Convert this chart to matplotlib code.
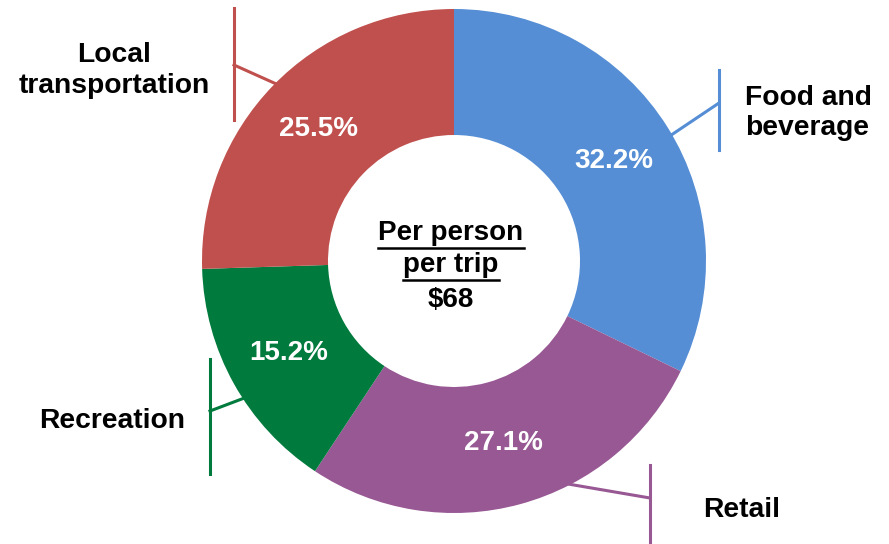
import matplotlib
matplotlib.use("Agg")
import matplotlib.pyplot as plt
import numpy as np

# data
categories = ["Food and\nbeverage", "Retail", "Recreation", "Local\ntransportation"]
shares = [32.2, 27.1, 15.2, 25.5]
colors = ["#558ED5", "#975893", "#007A3D", "#C0504D"]
center_lines = ["Per person", "per trip", "$68"]

plt.rcParams["font.family"] = ["Liberation Sans", "DejaVu Sans"]

W, H = 889, 544
fig = plt.figure(figsize=(W / 100, H / 100), dpi=100)
ax = fig.add_axes([0, 0, 1, 1])

# work in pixel units, y measured from the top of the picture
cx, cy = 454, H - 261
R = 252
wedges, texts, autotexts = ax.pie(
    shares, colors=colors, startangle=90, counterclock=False,
    radius=R, center=(cx, cy), autopct="%.1f%%", pctdistance=0.75,
    wedgeprops=dict(width=126, linewidth=0),
    textprops=dict(color="white", fontsize=20, fontweight="bold"))

ax.set_xlim(0, W)
ax.set_ylim(0, H)
ax.set_aspect("equal")
ax.axis("off")

# leader lines: (angle on ring, elbow point, vertical bar x, bar top, bar bottom)
leaders = [
    (30, (719, 103), 719, 70, 150),
    (-65, (650, 498), 650, 465, 544),
    (213.5, (210, 411), 210, 359, 474),
    (134.5, (234, 65), 234, 8, 120),
]
for (ang, elbow, bx, top, bot), c in zip(leaders, colors):
    a = np.deg2rad(ang)
    sx, sy = cx + (R - 8) * np.cos(a), cy + (R - 8) * np.sin(a)
    ax.plot([sx, elbow[0]], [sy, H - elbow[1]], color=c, lw=2.2, zorder=0)
    ax.plot([bx, bx], [H - top, H - bot], color=c, lw=2.2, zorder=0)

# category labels (anchor x, alignment, baseline of each line)
label_pos = [(745, "left", [105, 135]), (703, "left", [517]),
             (39, "left", [428]), (114.5, "center", [62, 93])]
for name, (lx, ha, bases) in zip(categories, label_pos):
    for line, b in zip(name.split("\n"), bases):
        ax.text(lx, H - b, line, fontsize=20.3, fontweight="bold",
                ha=ha, va="baseline", color="black")

# centre text, first two lines underlined
center_base = [240, 272, 307]
ctexts = []
for line, b in zip(center_lines, center_base):
    t = ax.text(451, H - b, line, fontsize=20, fontweight="bold",
                ha="center", va="baseline", color="black")
    ctexts.append(t)

fig.canvas.draw()
r = fig.canvas.get_renderer()
for t, b in zip(ctexts[:2], center_base[:2]):
    bb = t.get_window_extent(r)
    ax.plot([bb.x0, bb.x1], [H - b - 8, H - b - 8], color="black", lw=1.8)

fig.savefig("out.png", dpi=100)
